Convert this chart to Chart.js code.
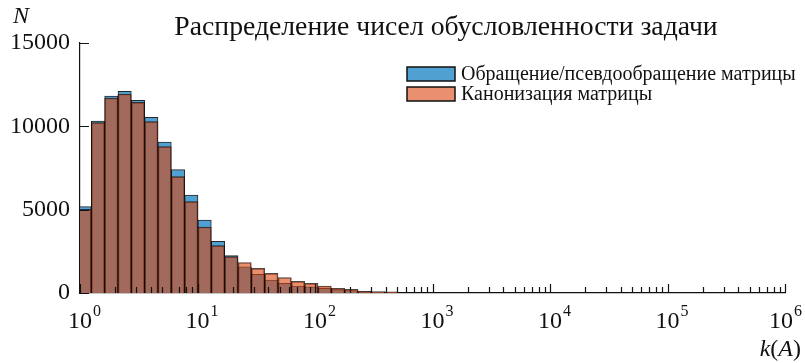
<!DOCTYPE html>
<html lang="ru">
<head>
<meta charset="utf-8">
<script src="https://cdn.jsdelivr.net/npm/chart.js@4.4.1/dist/chart.umd.min.js"></script>
<style>
  html, body { margin: 0; padding: 0; background: #fff; }
  #wrap { width: 805px; height: 363px; }
</style>
</head>
<body>
<div id="wrap"><canvas id="hist" width="805" height="363"></canvas></div>
<script>
// ── ДАННЫЕ
const TITLE = 'Распределение чисел обусловленности задачи';
const LABEL_INV = 'Обращение/псевдообращение матрицы';
const LABEL_CAN = 'Канонизация матрицы';

// центры логарифмических бинов, k(A)
const BIN_CENTERS = [1.095, 1.422, 1.847, 2.398, 3.114, 4.045, 5.252, 6.822, 8.859, 11.50,
  14.94, 19.41, 25.20, 32.73, 42.51, 55.20, 71.70, 93.1, 120.9, 157.0, 203.9, 264.8, 343.9, 446.6];

const COUNTS_INV = [5180, 10320, 11820, 12100, 11560, 10540, 9060, 7400, 5880, 4380,
  3100, 2240, 1570, 1120, 780, 580, 420, 370, 280, 200, 150, 80, 60, 40];
const COUNTS_CAN = [5020, 10220, 11700, 11940, 11440, 10280, 8780, 6980, 5480, 3960,
  2840, 2180, 1830, 1480, 1180, 930, 700, 580, 420, 280, 220, 100, 90, 70];

const X_DECADES = [0, 1, 2, 3, 4, 5, 6];   // показатели степени 10^n
const Y_TICKS = [0, 5000, 10000, 15000];

const SERIF = '"Liberation Serif", "Times New Roman", serif';
const BLUE = '#50a0d2';
const ORANGE = 'rgba(216, 70, 15, 0.6)';

function pts(vals) { return vals.map((v, i) => ({ x: BIN_CENTERS[i], y: v })); }

// ── РИСОВАНИЕ ОСЕЙ, ПОДПИСЕЙ И ЛЕГЕНДЫ
const decor = {
  id: 'decor',
  afterDatasetsDraw(chart) {
    const { ctx, chartArea: a, scales: { x, y } } = chart;
    ctx.save();
    ctx.strokeStyle = '#111';
    ctx.lineWidth = 1.2;
    ctx.beginPath();
    // x: большие и малые засечки внутрь
    X_DECADES.forEach(p => {
      const px = Math.round(x.getPixelForValue(Math.pow(10, p))) + 0.5;
      ctx.moveTo(px, a.bottom); ctx.lineTo(px, a.bottom - 9);
      if (p < 6) {
        for (let m = 2; m <= 9; m++) {
          const mx = Math.round(x.getPixelForValue(m * Math.pow(10, p))) + 0.5;
          ctx.moveTo(mx, a.bottom); ctx.lineTo(mx, a.bottom - 6);
        }
      }
    });
    Y_TICKS.forEach(v => {
      const py = Math.round(y.getPixelForValue(v)) + 0.5;
      ctx.moveTo(a.left, py); ctx.lineTo(a.left + 9, py);
    });
    ctx.stroke();
    ctx.restore();
  },
  afterDraw(chart) {
    const { ctx, chartArea: a, scales: { x } } = chart;
    ctx.save();
    ctx.fillStyle = '#111';
    ctx.textBaseline = 'alphabetic';

    // подписи 10^n
    X_DECADES.forEach(p => {
      const px = x.getPixelForValue(Math.pow(10, p));
      ctx.font = '24px ' + SERIF;
      const w = ctx.measureText('10').width;
      ctx.font = '16px ' + SERIF;
      const ws = ctx.measureText(String(p)).width;
      let left = px - w / 2;
      if (left + w + 1 + ws > chart.width - 3) left = chart.width - 3 - ws - 1 - w;
      ctx.textAlign = 'left';
      ctx.font = '24px ' + SERIF;
      ctx.fillText('10', left, 328);
      ctx.font = '16px ' + SERIF;
      ctx.fillText(String(p), left + w + 1, 316);
    });

    // заголовок
    ctx.font = '27.7px ' + SERIF;
    ctx.textAlign = 'center';
    ctx.fillText(TITLE, 446, 35);

    // N
    ctx.textAlign = 'left';
    ctx.font = 'italic 24px ' + SERIF;
    ctx.fillText('N', 13, 23);

    // k(A)
    const parts = [['k', true], ['(', false], ['A', true], [')', false]];
    let total = 0;
    parts.forEach(([t, it]) => {
      ctx.font = (it ? 'italic ' : '') + '24px ' + SERIF;
      total += ctx.measureText(t).width;
    });
    let cx = 801 - total;
    parts.forEach(([t, it]) => {
      ctx.font = (it ? 'italic ' : '') + '24px ' + SERIF;
      ctx.fillText(t, cx, 356);
      cx += ctx.measureText(t).width;
    });

    // легенда
    const items = chart.data.datasets;
    ctx.font = '20px ' + SERIF;
    ctx.textBaseline = 'middle';
    items.forEach((ds, i) => {
      const top = 67 + i * 20;
      ctx.fillStyle = '#fff';
      ctx.fillRect(407, top, 48, 14);
      ctx.fillStyle = ds.backgroundColor;
      ctx.fillRect(407, top, 48, 14);
      ctx.strokeStyle = '#111';
      ctx.lineWidth = 1.5;
      ctx.strokeRect(407, top, 48, 14);
      ctx.fillStyle = '#111';
      ctx.fillText(ds.label, 461, top + 8);
    });
    ctx.restore();
  }
};

// ── ГРАФИК
new Chart(document.getElementById('hist'), {
  type: 'bar',
  data: {
    datasets: [
      {
        label: LABEL_INV,
        data: pts(COUNTS_INV),
        backgroundColor: BLUE,
        borderColor: 'rgba(0,0,0,0.85)',
        borderWidth: 1,
        order: 2,
      },
      {
        label: LABEL_CAN,
        data: pts(COUNTS_CAN),
        backgroundColor: ORANGE,
        borderColor: 'rgba(20,10,10,0.75)',
        borderWidth: 1,
        order: 1,
      }
    ]
  },
  options: {
    responsive: false,
    animation: false,
    layout: { padding: { top: 43, right: 20, left: 0, bottom: 0 } },
    datasets: {
      bar: { grouped: false, categoryPercentage: 1, barPercentage: 1 }
    },
    plugins: {
      legend: { display: false },
      tooltip: { enabled: false },
      title: { display: false }
    },
    scales: {
      x: {
        type: 'logarithmic',
        min: 1,
        max: 1e6,
        afterBuildTicks: s => { s.ticks = X_DECADES.map(p => ({ value: Math.pow(10, p) })); },
        afterFit: s => { s.height = 70; },
        ticks: { display: false },
        grid: { display: false, drawTicks: false },
        border: { display: true, color: '#111', width: 1.2 }
      },
      y: {
        min: 0,
        max: 15000,
        afterBuildTicks: s => { s.ticks = Y_TICKS.map(v => ({ value: v })); },
        afterFit: s => { s.width = 80; },
        ticks: {
          color: '#111',
          padding: 10,
          font: { family: SERIF, size: 24 },
          callback: v => String(v)
        },
        grid: { display: false, drawTicks: false },
        border: { display: true, color: '#111', width: 1.2 }
      }
    }
  },
  plugins: [decor]
});
</script>
</body>
</html>
